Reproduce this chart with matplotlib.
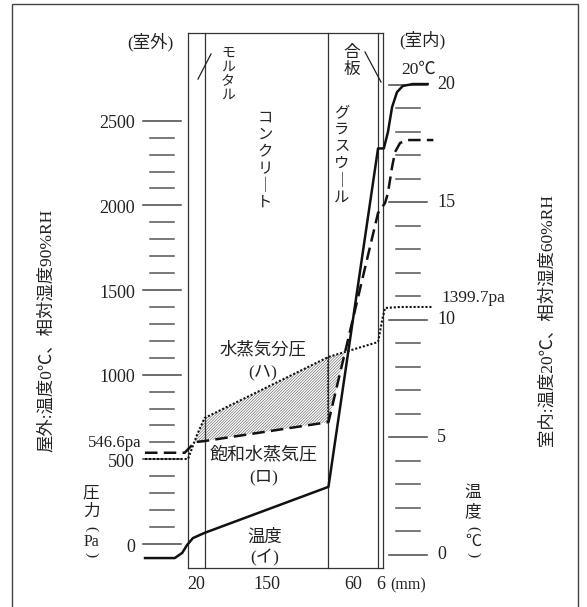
import numpy as np
import matplotlib
matplotlib.use("Agg")
import matplotlib.pyplot as plt
from matplotlib.lines import Line2D
from matplotlib.patches import Rectangle

plt.rcParams['font.family'] = ['Liberation Serif', 'Noto Sans CJK JP']
plt.rcParams['hatch.linewidth'] = 0.4

# wall layers (mm)
layer_names = ['モルタル', 'コンクリート', 'グラスウール', '合板']
layer_mm = [20, 150, 60, 6]
edges = np.concatenate([[0], np.cumsum(layer_mm)])

# temperature (イ), degC
temp_x = [-52, -16, -7, -1, 6, 20, 170, 230, 237, 242, 247, 253, 260, 272, 290]
temp_y = [-0.13, -0.13, 0.09, 0.43, 0.72, 0.94, 2.9, 17.3, 17.3, 18.0, 19.06, 19.7, 19.96, 20.04, 20.04]

# saturated vapour pressure (ロ), Pa
sat_x = [-52, -4, 8.5, 20, 170, 230, 238.5, 242, 247, 250.6, 256.7, 266, 297]
sat_y = [539, 539, 602, 608, 720, 1955, 2014, 2073, 2227, 2315, 2369, 2386, 2386]

# vapour partial pressure (ハ), Pa
vap_x = [-52, 0, 10.9, 20, 170, 230, 235, 238.5, 256.7, 297]
vap_y = [502, 502, 644, 744, 1105, 1193, 1323, 1394, 1400, 1400]

p_major = [0, 500, 1000, 1500, 2000, 2500]
t_major = [0, 5, 10, 15, 20]

W, H = 587, 607
fig = plt.figure(figsize=(W / 100, H / 100), dpi=100)
ax = fig.add_axes([0, 0, 1, 1])
ax.set_xlim(-227.5, 482.9)
ax.set_ylim(-372.1, 3213.2)
ax.axis('off')
ax2 = ax.twinx()
ax2.set_ylim(-2.213, 23.617)
ax2.axis('off')


def P(x, y):
    return x / W, 1 - y / H


def txt(x, y, s, size=12, **kw):
    kw.setdefault('ha', 'center')
    kw.setdefault('va', 'center')
    fig.text(*P(x, y), s, fontsize=size, color='#222222', **kw)


def vtext(x, y, s, size=11, ls=1.0):
    txt(x, y, '\n'.join(s), size, linespacing=ls, family=['Noto Sans CJK JP'])


def unit_label(x, c1, c2, unit):
    # vertical "c1 c2 (unit)" stack
    txt(x, 493, c1, 12)
    txt(x, 512, c2, 12)
    txt(x, 529, '(', 11, rotation=-90)
    txt(x, 542, unit, 11.5)
    txt(x, 555, ')', 11, rotation=-90)


def fline(p0, p1):
    a, b = P(*p0), P(*p1)
    fig.add_artist(Line2D([a[0], b[0]], [a[1], b[1]], color='#222222', lw=0.9))


# frame
fig.patches.append(Rectangle(P(12, 610), (578 - 12) / W, (610 - 4) / H,
                             transform=fig.transFigure, fill=False,
                             lw=1.0, ec='#444444'))

# wall outline
wall_top, wall_bot = 3018, -142
for e in edges:
    ax.plot([e, e], [wall_bot, wall_top], color='#333333', lw=0.9)
ax.plot([0, edges[-1]], [wall_top, wall_top], color='#333333', lw=0.9)
ax.plot([0, edges[-1]], [wall_bot, wall_bot], color='#333333', lw=0.9)

# pressure ticks
for v in range(0, 2501, 100):
    if v in p_major:
        ax.plot([-54.5, -8.5], [v, v], color='#444444', lw=1.1)
        ax.text(-64, v - 18, str(v), ha='right', va='center', fontsize=13, color='#222222')
    else:
        ax.plot([-46, -17], [v, v], color='#555555', lw=1.1)

# temperature ticks
for v in range(0, 21):
    if v in t_major:
        ax2.plot([243.3, 289.3], [v, v], color='#444444', lw=1.1)
        ax2.text(301.5, v, str(v), ha='left', va='center', fontsize=13, color='#222222')
    else:
        ax2.plot([251.8, 280.8], [v, v], color='#555555', lw=1.1)

# hatch between vapour and saturation
xx = np.linspace(0, edges[-1], 1200)
sv = np.interp(xx, sat_x, sat_y)
vv = np.interp(xx, vap_x, vap_y)
ax.fill_between(xx, sv, vv, where=vv > sv, interpolate=True,
                facecolor='none', edgecolor='#555555', hatch='/' * 12, lw=0)
ax.plot([170, 170], [np.interp(170, sat_x, sat_y), np.interp(170, vap_x, vap_y)],
        color='#222222', lw=1.2, ls=(0, (1, 1)))

# curves
ax2.plot(temp_x, temp_y, color='#111111', lw=1.8)
ax.plot(sat_x, sat_y, color='#111111', lw=1.8, ls=(0, (5, 2.5)))
ax.plot(vap_x, vap_y, color='#111111', lw=1.5, ls=(0, (1, 0.9)))

# labels
txt(150, 42, '(室外)', 12.5)
txt(422, 40, '(室内)', 12.5)

vtext(228, 74, layer_names[0], 10)
vtext(265, 160, 'コンクリ｜ト', 11)
vtext(342, 155, 'グラスウ｜ル', 11)
vtext(352, 61, layer_names[3], 12, 1.05)
fline((198, 79), (211, 54))
fline((365, 52), (381, 82))

txt(419, 70, '20℃', 12.5)
txt(441, 298, '1399.7pa', 12.5, ha='left')
txt(141, 443, '546.6pa', 12, ha='right')

txt(263, 350, '水蒸気分圧', 12.5)
txt(263, 372, '(ハ)', 12.5)
txt(264, 455, '飽和水蒸気圧', 13)
txt(264, 477, '(ロ)', 12.5)
txt(265, 538, '温度', 12.5)
txt(265, 558, '(イ)', 12.5)

unit_label(91, '圧', '力', 'Pa')
unit_label(473, '温', '度', '℃')

txt(47, 330, '屋外:温度0℃、相対湿度90%RH', 12.5, rotation=90)
txt(548, 320, '室内:温度20℃、相対湿度60%RH', 12.5, rotation=90)

for i, t in enumerate(layer_mm):
    mid = (edges[i] + edges[i + 1]) / 2
    ax.text(mid, -242, str(t), ha='center', va='center', fontsize=13, color='#222222')
txt(408, 585, '(mm)', 11.5)

fig.savefig('out.png', dpi=100)
